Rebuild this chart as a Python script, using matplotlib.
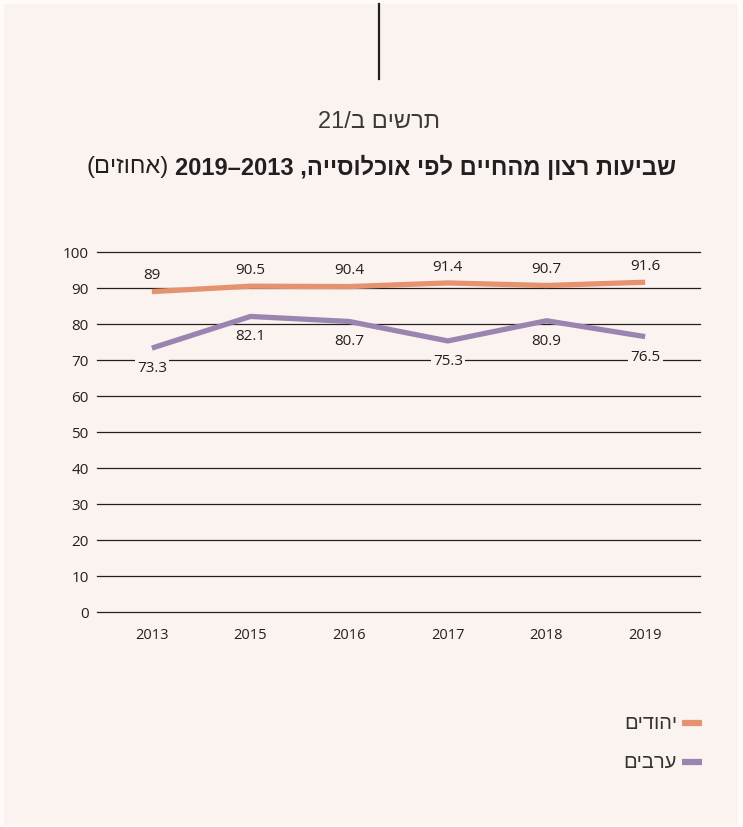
import matplotlib
matplotlib.use("Agg")
import matplotlib.pyplot as plt
from matplotlib.patches import Rectangle
from matplotlib.lines import Line2D

years = ["2013", "2015", "2016", "2017", "2018", "2019"]
jews = [89, 90.5, 90.4, 91.4, 90.7, 91.6]
arabs = [73.3, 82.1, 80.7, 75.3, 80.9, 76.5]
yticks = [0, 10, 20, 30, 40, 50, 60, 70, 80, 90, 100]

# Hebrew strings in visual (left-to-right) order
subtitle = "21/ב םישרת"
title_bold = "2019–2013 ,הייסולכוא יפל םייחהמ ןוצר תועיבש"
title_light = "(םיזוחא)"
leg_jews = "םידוהי"
leg_arabs = "םיברע"

BG = "#FBF3EF"
ORANGE = "#E5936F"
PURPLE = "#9A85B0"
DARK = "#231F20"
HEB = ["Liberation Sans", "DejaVu Sans"]

fig = plt.figure(figsize=(7.43, 8.28), dpi=100)
fig.patch.set_facecolor("#FEFBF9")
fig.add_artist(Rectangle((4/743, 2/828), 734/743, 821/828, transform=fig.transFigure,
                         facecolor=BG, edgecolor="none", zorder=0))
fig.add_artist(Line2D([379/743, 379/743], [1 - 5/828, 1 - 80/828], transform=fig.transFigure,
                      color=DARK, lw=1.6))

fig.text(379/743, 1 - 122/828, subtitle, ha="center", va="center", fontsize=17,
         family=HEB, color="#3a3a3a", fontweight="light")

# Title: bold part on the right, light part just left of it
tb = fig.text(676/743, 1 - 167/828, title_bold, ha="right", va="center", fontsize=17,
              fontweight="bold", family=HEB, color=DARK)
fig.canvas.draw()
bb = tb.get_window_extent()
fig.text((bb.x0 - 6) / 743, 1 - 167/828, title_light, ha="right", va="center", fontsize=17,
         family=HEB, color=DARK)

ax = fig.add_axes([97/743, 1 - 613/828, 603/743, 360/828])
ax.set_facecolor("none")
x = list(range(len(years)))
ax.set_xlim(-0.556, len(years) - 1 + 0.556)
ax.set_ylim(0, 100)
for v in yticks:
    ax.axhline(v, color=DARK, lw=0.9, zorder=1, clip_on=False)
ax.plot(x, jews, color=ORANGE, lw=3.8, zorder=3, clip_on=False, solid_capstyle="butt")
ax.plot(x, arabs, color=PURPLE, lw=3.8, zorder=3, clip_on=False, solid_capstyle="butt")

for xi, v in zip(x, jews):
    ax.annotate(f"{v:g}", (xi, v), xytext=(0, 12), textcoords="offset points",
                ha="center", va="center", fontsize=11, color=DARK, family="Open Sans", zorder=4)
for xi, v in zip(x, arabs):
    ax.annotate(f"{v:g}", (xi, v), xytext=(0, -14), textcoords="offset points",
                ha="center", va="center", fontsize=11, color=DARK, family="Open Sans", zorder=4,
                bbox=dict(boxstyle="square,pad=0.15", facecolor=BG, edgecolor="none"))

ax.set_yticks(yticks)
ax.set_yticklabels([str(v) for v in yticks], family="Open Sans", fontsize=11, color=DARK)
ax.set_xticks(x)
ax.set_xticklabels(years, family="Open Sans", fontsize=10.5, color=DARK)
ax.tick_params(axis="y", length=0, pad=6)
ax.tick_params(axis="x", length=0, pad=11)
for s in ax.spines.values():
    s.set_visible(False)

# Legend
for ypix, lab, col in [(724, leg_jews, ORANGE), (763, leg_arabs, PURPLE)]:
    fig.add_artist(Line2D([682/743, 702/743], [1 - ypix/828, 1 - ypix/828], transform=fig.transFigure,
                          color=col, lw=4.5, solid_capstyle="butt"))
    fig.text(677/743, 1 - ypix/828, lab, ha="right", va="center", fontsize=14.5,
             family=HEB, color="#333333")

fig.savefig("out.png", dpi=100, facecolor=fig.get_facecolor())
